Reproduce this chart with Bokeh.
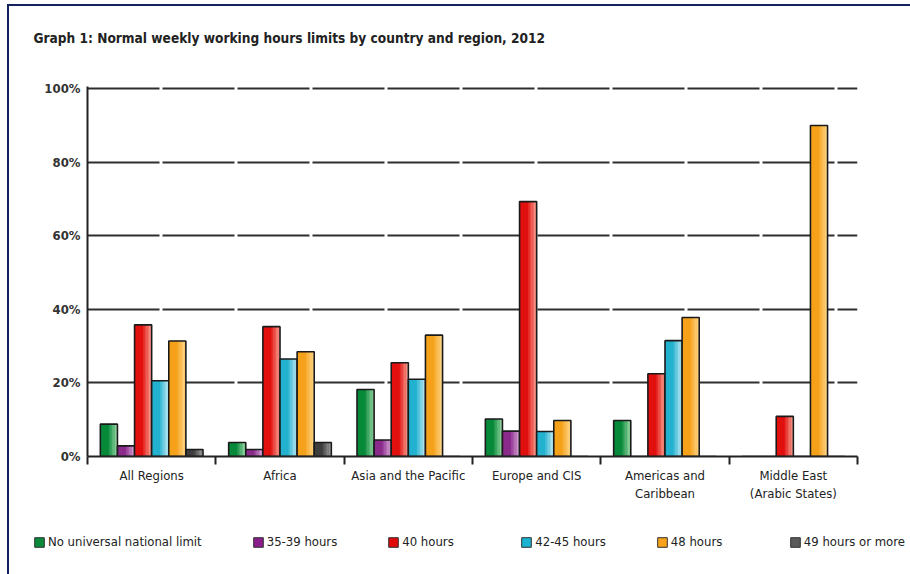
from bokeh.plotting import figure
from bokeh.layouts import column
from bokeh.models import (ColumnDataSource, FixedTicker, Range1d, Legend, LegendItem, Label)
from bokeh.embed import file_html
from bokeh.resources import INLINE

# ---------------- data ----------------
title_text = "Graph 1: Normal weekly working hours limits by country and region, 2012"
regions = ["All Regions", "Africa", "Asia and the Pacific", "Europe and CIS",
           "Americas and\nCaribbean", "Middle East\n(Arabic States)"]
series_names = ["No universal national limit", "35-39 hours", "40 hours",
                "42-45 hours", "48 hours", "49 hours or more"]
no_limit = [8.8, 3.8, 18.2, 10.2, 9.8, 0]
h35_39 = [2.9, 1.9, 4.5, 6.9, 0, 0]
h40 = [35.8, 35.3, 25.5, 69.3, 22.5, 10.9]
h42_45 = [20.6, 26.5, 21.0, 6.8, 31.5, 0]
h48 = [31.4, 28.5, 33.0, 9.8, 37.8, 90.0]
h49_more = [1.9, 3.8, 0, 0, 0, 0]
y_ticks = [0, 20, 40, 60, 80, 100]
y_tick_labels = ["0%", "20%", "40%", "60%", "80%", "100%"]

series_values = [no_limit, h35_39, h40, h42_45, h48, h49_more]
base_colors = ["#07893a", "#8a2b8c", "#e10f0e", "#22b2cf", "#f6a11a", "#3e3e3e"]
light_colors = ["#9cd8a6", "#d9a8d8", "#f8a594", "#c2e9f3", "#fdd88e", "#a2a2a2"]
legend_colors = ["#0a8a3a", "#8a1e8c", "#e00a0a", "#1ab3d0", "#f8a11b", "#5a5a5a"]

FONT = "DejaVu Sans Condensed"


def mix(c1, c2, t):
    a = [int(c1[i:i + 2], 16) for i in (1, 3, 5)]
    b = [int(c2[i:i + 2], 16) for i in (1, 3, 5)]
    return "#%02x%02x%02x" % tuple(round(a[k] + (b[k] - a[k]) * t) for k in range(3))


def blank_strip(h):
    f = figure(width=901, height=h, output_backend="svg", toolbar_location=None,
               x_range=Range1d(0, 1), y_range=Range1d(0, 1),
               x_axis_type=None, y_axis_type=None, min_border=0)
    f.frame_align = False
    f.outline_line_color = None
    f.grid.visible = False
    f.background_fill_color = "white"
    f.border_fill_color = "white"
    return f


n_groups = len(regions)
n_series = len(series_names)
group_span = 0.8
bw = group_span / n_series
centers = [i + 0.5 for i in range(n_groups)]

# ---------------- title strip ----------------
tf = blank_strip(60)
tf.add_layout(Label(x=24, y=29, x_units="screen", y_units="screen", text=title_text,
                    text_font=FONT, text_font_size="13.6px", text_font_style="bold",
                    text_color="#222222", text_baseline="alphabetic"))

# ---------------- main chart ----------------
p = figure(width=901, height=444, output_backend="svg", toolbar_location=None,
           x_range=Range1d(0, n_groups), y_range=Range1d(0, 100.6),
           min_border_left=78, min_border_right=53, min_border_top=20,
           min_border_bottom=54)
p.frame_align = False
p.outline_line_color = None
p.background_fill_color = "white"
p.border_fill_color = "white"

# grid
p.xgrid.visible = False
p.ygrid.ticker = FixedTicker(ticks=y_ticks)
p.ygrid.grid_line_color = "#2e2e2e"
p.ygrid.grid_line_width = 2
p.ygrid.grid_line_dash = "72 3"

# bars
n_strips = 6
for s, (name, vals) in enumerate(zip(series_names, series_values)):
    off = (s - (n_series - 1) / 2) * bw
    xs = [c + off for c in centers]
    src = ColumnDataSource(dict(x=xs, top=vals))
    p.vbar(x="x", top="top", width=bw, bottom=0, source=src,
           fill_color=base_colors[s], line_color=None)
    # lighter shading toward right edge
    start = 0.5
    sw = (1 - start) / n_strips
    for k in range(n_strips):
        t = (k + 1) / n_strips
        xo = -0.5 + start + sw * (k + 0.5)
        ssrc = ColumnDataSource(dict(x=[x + xo * bw for x in xs], top=vals))
        p.vbar(x="x", top="top", width=sw * bw + 0.0005, bottom=0, source=ssrc,
               fill_color=mix(base_colors[s], light_colors[s], t ** 0.9), line_color=None)
    p.vbar(x="x", top="top", width=bw, bottom=0, source=src,
           fill_color=None, line_color="#1a1a1a", line_width=1.6)

# axes
yax = p.yaxis[0]
yax.ticker = FixedTicker(ticks=y_ticks)
yax.major_label_overrides = {t: l for t, l in zip(y_ticks, y_tick_labels)}
yax.major_tick_out = 0
yax.major_tick_in = 0
yax.minor_tick_out = 0
yax.minor_tick_in = 0
yax.axis_line_color = "#222222"
yax.axis_line_width = 2
yax.major_label_text_font = FONT
yax.major_label_text_font_style = "bold"
yax.major_label_text_font_size = "13px"
yax.major_label_text_color = "#333333"
yax.major_label_standoff = 7

xax = p.xaxis[0]
xax.ticker = FixedTicker(ticks=centers, minor_ticks=list(range(n_groups + 1)))
xax.major_label_overrides = {c: r for c, r in zip(centers, regions)}
xax.major_tick_out = 0
xax.major_tick_in = 0
xax.minor_tick_out = 8
xax.minor_tick_in = 0
xax.minor_tick_line_color = "#222222"
xax.minor_tick_line_width = 2
xax.axis_line_color = "#222222"
xax.axis_line_width = 2
xax.major_label_text_font = FONT
xax.major_label_text_font_size = "13px"
xax.major_label_text_color = "#222222"
xax.major_label_standoff = 3

# ---------------- legend strip ----------------
lf = blank_strip(64)
items = []
for s, name in enumerate(series_names):
    src = ColumnDataSource(dict(x=[0.5], top=[series_values[s][0]]))
    r = lf.vbar(x="x", top="top", width=0.01, source=src,
                fill_color=legend_colors[s], line_color="#333333", line_width=1,
                visible=False)
    items.append(LegendItem(label=name, renderers=[r]))
legend = Legend(items=items, location=(24, 25), orientation="horizontal",
                glyph_width=12, glyph_height=12, label_standoff=3, padding=0, margin=0,
                spacing=50, label_width=68,
                border_line_color=None, background_fill_alpha=0,
                label_text_font=FONT, label_text_font_size="13px",
                label_text_color="#222222", label_height=12)
lf.add_layout(legend, "center")

layout = column(tf, p, lf, spacing=0)
layout.styles = {"margin-left": "7px", "margin-top": "4px",
                 "border-left": "2px solid #14235f", "border-top": "2px solid #14235f"}

open("out.html", "w").write(file_html(layout, INLINE))
